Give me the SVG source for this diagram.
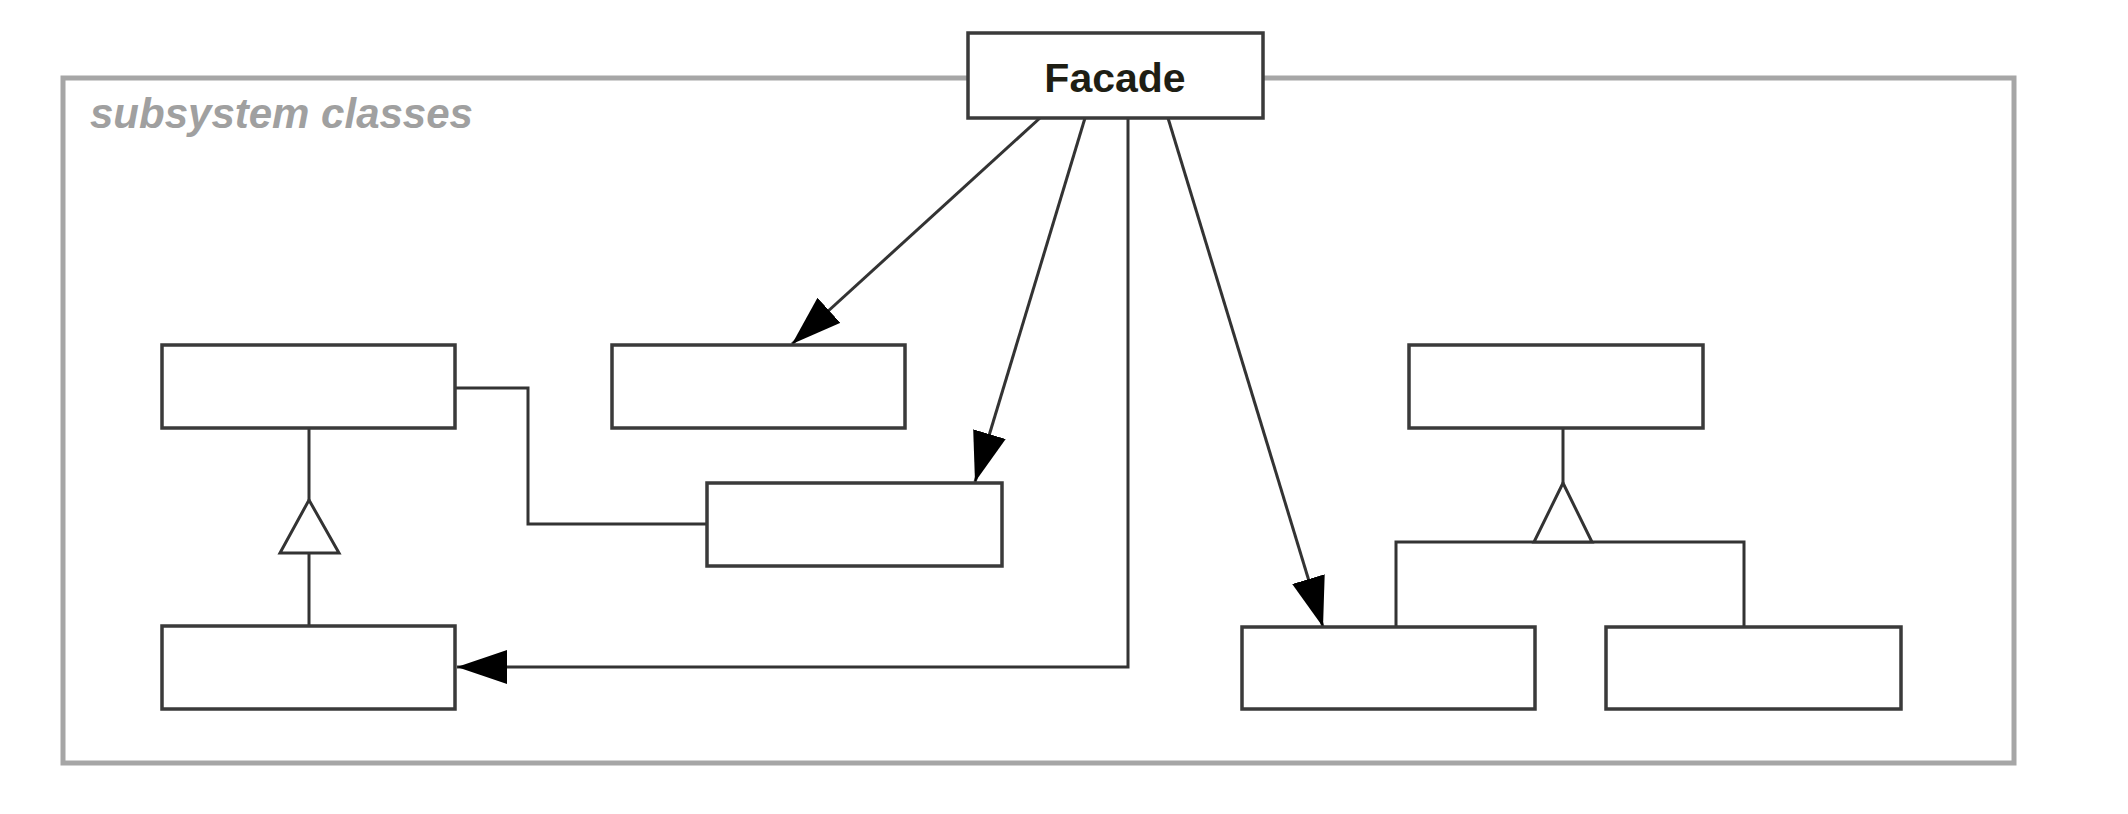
<svg xmlns="http://www.w3.org/2000/svg" width="2128" height="814" viewBox="0 0 2128 814">
<style>
.cls{fill:#fff;stroke:#3a3a3a;stroke-width:3.5}
.con{fill:none;stroke:#333;stroke-width:3}
.gen{fill:#fff;stroke:#333;stroke-width:3;stroke-linejoin:miter}
.frame{fill:none;stroke:#a6a6a6;stroke-width:5}
.lbl{font-family:"Liberation Sans",Arial,sans-serif;font-weight:bold;font-size:41px;fill:#1e1e14}
.pkg{font-family:"Liberation Sans",Arial,sans-serif;font-style:italic;font-weight:bold;font-size:42px;fill:#a0a0a0}
</style>
<defs>
<marker id="arrow" markerUnits="userSpaceOnUse" markerWidth="52" markerHeight="34" refX="50" refY="17" orient="auto">
<path d="M0,0 L50,17 L0,34 z" fill="#000"/>
</marker>
</defs>
<rect width="2128" height="814" fill="#fff"/>
<g id="subsystem">
<rect class="frame" x="63" y="78" width="1951" height="685"/>
<text class="pkg" x="90" y="128">subsystem classes</text>
</g>
<g id="connectors">
<line class="con" x1="1040" y1="118" x2="792" y2="344" marker-end="url(#arrow)"/>
<line class="con" x1="1085" y1="118" x2="975" y2="482" marker-end="url(#arrow)"/>
<polyline class="con" points="1128,118 1128,667 457,667" marker-end="url(#arrow)"/>
<line class="con" x1="1168" y1="118" x2="1323" y2="627" marker-end="url(#arrow)"/>
<polyline class="con" points="455,388 528,388 528,524 707,524"/>
<line class="con" x1="309" y1="428" x2="309" y2="500"/>
<line class="con" x1="309" y1="553" x2="309" y2="626"/>
<polygon class="gen" points="309,500 339,553 280,553"/>
<line class="con" x1="1563" y1="428" x2="1563" y2="483"/>
<polyline class="con" points="1396,627 1396,542 1744,542 1744,627"/>
<polygon class="gen" points="1563,483 1592,542 1534,542"/>
</g>
<g id="facade">
<rect class="cls" x="968" y="33" width="295" height="85"/>
<text class="lbl" x="1115" y="92" text-anchor="middle">Facade</text>
</g>
<g id="classA"><rect class="cls" x="162" y="345" width="293" height="83"/></g>
<g id="classB"><rect class="cls" x="612" y="345" width="293" height="83"/></g>
<g id="classC"><rect class="cls" x="707" y="483" width="295" height="83"/></g>
<g id="classD"><rect class="cls" x="162" y="626" width="293" height="83"/></g>
<g id="classE"><rect class="cls" x="1409" y="345" width="294" height="83"/></g>
<g id="classF"><rect class="cls" x="1242" y="627" width="293" height="82"/></g>
<g id="classG"><rect class="cls" x="1606" y="627" width="295" height="82"/></g>
</svg>
